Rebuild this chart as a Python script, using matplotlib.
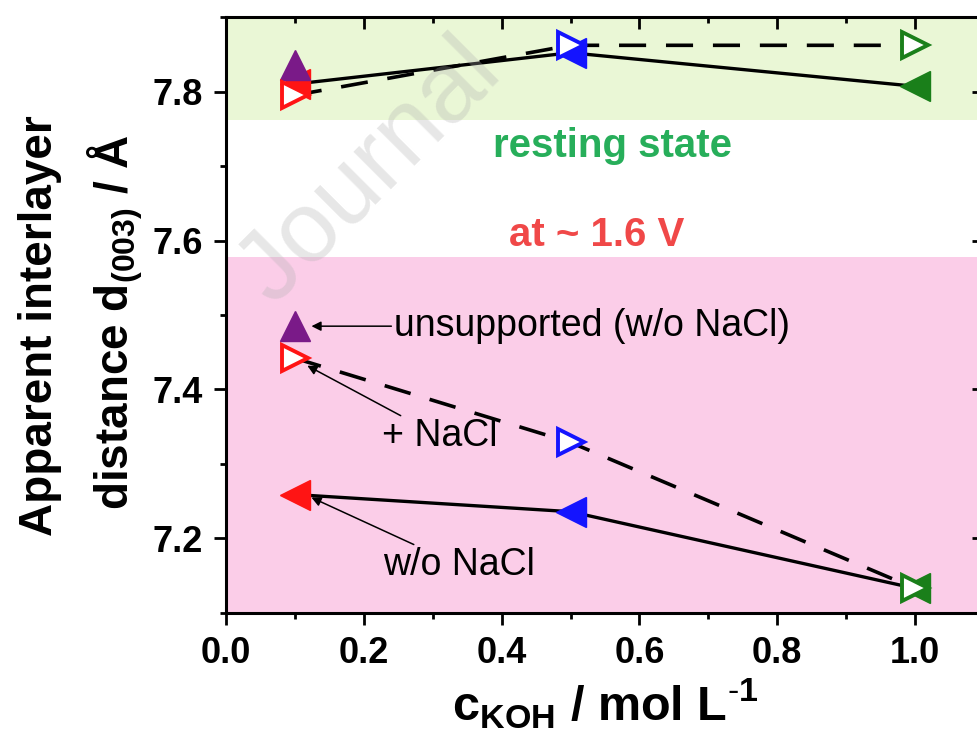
import matplotlib
matplotlib.use("Agg")
import matplotlib.pyplot as plt
from matplotlib.ticker import MultipleLocator, FormatStrFormatter

plt.rcParams["font.family"] = ["Liberation Sans", "DejaVu Sans"]
plt.rcParams["mathtext.fontset"] = "custom"
plt.rcParams["mathtext.rm"] = "Liberation Sans"
plt.rcParams["mathtext.bf"] = "Liberation Sans:bold"

# data
conc = [0.1, 0.5, 1.0]
point_colors = ["#ff1414", "#1414ff", "#1a7f1a"]

rest_wo_nacl = [7.810, 7.852, 7.807]
rest_nacl = [7.795, 7.862, 7.862]
rest_unsup = 7.836

volt_wo_nacl = [7.259, 7.236, 7.133]
volt_nacl = [7.442, 7.329, 7.133]
volt_unsup = 7.485

band_rest = (7.762, 7.9)
band_volt = (7.1, 7.578)

fig = plt.figure(figsize=(9.77, 7.44), dpi=100)
ax = fig.add_axes([226 / 977, 1 - 613 / 744, 758 / 977, (613 - 17) / 744])

ax.set_xlim(0, 1.1)
ax.set_ylim(7.1, 7.9)

ax.axhspan(*band_rest, color="#eaf7d6", lw=0, zorder=0)
ax.axhspan(*band_volt, color="#fbcde8", lw=0, zorder=0)

for ys_solid, ys_dash in [(rest_wo_nacl, rest_nacl), (volt_wo_nacl, volt_nacl)]:
    ax.plot(conc, ys_solid, color="black", lw=2.4, zorder=2)
    ax.plot(conc, ys_dash, color="black", lw=2.6, dashes=(7.5, 5.5), zorder=2)
    for x, y, c in zip(conc, ys_solid, point_colors):
        ax.plot(x, y, marker="<", ms=22, color=c, mec=c, ls="none", zorder=3)
    for x, y, c in zip(conc, ys_dash, point_colors):
        ax.plot(x, y, marker=">", ms=19, mfc="white", mec=c, mew=2.8, ls="none", zorder=4)

for y in (rest_unsup, volt_unsup):
    ax.plot(conc[0], y, marker="^", ms=22, color="#7a1a88", ls="none", zorder=3)

ax.text(0.561, 7.727, "resting state", color="#27ae5a", fontsize=29,
        fontweight="bold", ha="center", va="center")
ax.text(0.538, 7.608, "at ~ 1.6 V", color="#f04848", fontsize=29,
        fontweight="bold", ha="center", va="center")

arrow = dict(arrowstyle="-|>", color="black", lw=1.1, mutation_scale=14, shrinkA=0, shrinkB=0)
ax.annotate("unsupported (w/o NaCl)", xy=(0.124, volt_unsup), xytext=(0.244, volt_unsup),
            fontsize=27, ha="left", va="center", arrowprops=arrow)
ax.annotate("+ NaCl", xy=(0.118, 7.432), xytext=(0.226, 7.337),
            fontsize=27, ha="left", va="center", arrowprops=arrow)
ax.annotate("w/o NaCl", xy=(0.124, 7.255), xytext=(0.228, 7.164),
            fontsize=27, ha="left", va="center", arrowprops=arrow)

ax.xaxis.set_major_locator(MultipleLocator(0.2))
ax.xaxis.set_minor_locator(MultipleLocator(0.1))
ax.yaxis.set_major_locator(MultipleLocator(0.2))
ax.yaxis.set_minor_locator(MultipleLocator(0.1))
ax.xaxis.set_major_formatter(FormatStrFormatter("%.1f"))
ax.yaxis.set_major_formatter(FormatStrFormatter("%.1f"))

ax.tick_params(which="both", top=True, right=True, width=2, direction="out")
ax.tick_params(which="major", length=8.6, labelsize=26, pad=8)
ax.tick_params(which="minor", length=4.3)
for t in ax.get_xticklabels() + ax.get_yticklabels():
    t.set_fontweight("bold")
for sp in ax.spines.values():
    sp.set_linewidth(2.2)

# top/right ticks point inward
for tick in ax.xaxis.get_major_ticks() + ax.xaxis.get_minor_ticks():
    tick.tick2line.set_marker(3)
for tick in ax.yaxis.get_major_ticks() + ax.yaxis.get_minor_ticks():
    tick.tick2line.set_marker(0)

ax.set_xlabel("c$_{\\mathbf{KOH}}$ / mol L$^{\\mathbf{\\text{-}1}}$", fontsize=35,
              fontweight="bold", labelpad=4)
fig.text(40 / 977, 1 - 326 / 744, "Apparent interlayer", rotation=90, fontsize=33,
         fontweight="bold", ha="center", va="center")
fig.text(115 / 977, 1 - 322 / 744, "distance d$_{\\mathbf{(003)}}$ / Å", rotation=90,
         fontsize=33, fontweight="bold", ha="center", va="center")

# faint watermark
fig.text(370 / 977, 1 - 172 / 744, "Journal", rotation=45, fontsize=72,
         color="#b0b0b0", alpha=0.3, ha="center", va="center")

fig.savefig("out.png", dpi=100)
